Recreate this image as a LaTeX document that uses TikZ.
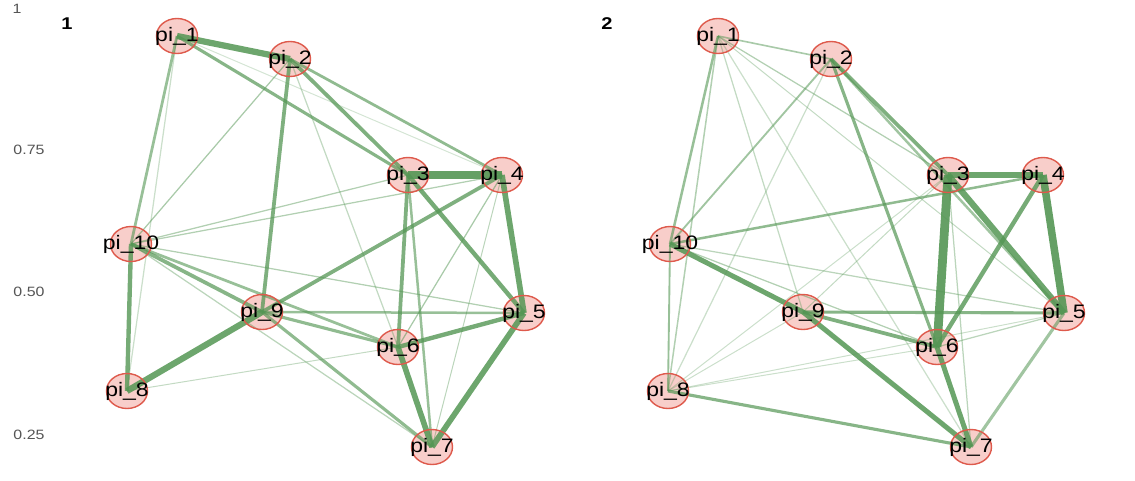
\documentclass[tikz,border=0pt]{standalone}
\usepackage{fontspec}
\setmainfont{Liberation Sans}
\usetikzlibrary{shapes.geometric}
\definecolor{nodefill}{RGB}{248,206,202}
\definecolor{nodeborder}{RGB}{222,90,76}
\definecolor{edgegreen}{RGB}{84,150,84}
\definecolor{ticktext}{RGB}{85,85,85}
\newcommand\hs[1]{\scalebox{1.18}[1]{#1}}
\tikzset{
  nd/.style={ellipse, minimum width=41pt, minimum height=35pt, inner sep=0pt, fill=nodefill},
  ndring/.style={ellipse, minimum width=41pt, minimum height=35pt, inner sep=0pt, draw=nodeborder, line width=1.4pt},
  ndlbl/.style={inner sep=0pt, font=\fontsize{19.5}{19.5}\selectfont, text=black},
  ed/.style 2 args={draw=edgegreen, line width=1.25*#1pt, draw opacity=#2},
  ticklbl/.style={font=\fontsize{13.5}{13.5}\selectfont, text=ticktext, inner sep=0pt},
  panellbl/.style={font=\fontsize{17}{17}\selectfont\bfseries, text=black, inner sep=0pt}
}
\begin{document}
\begin{tikzpicture}[x=1pt,y=-1pt]
\useasboundingbox (0,0) rectangle (1135,480);
% tick labels
\node[ticklbl] (t1) at (17,9) {\hs{1}};
\node[ticklbl] (t2) at (29,150) {\hs{0.75}};
\node[ticklbl] (t3) at (29,292) {\hs{0.50}};
\node[ticklbl] (t4) at (29,435) {\hs{0.25}};
\node[panellbl] (p1) at (67,24) {\hs{1}};
\node[panellbl] (p2) at (607,24) {\hs{2}};
% node fills, panel 1
\foreach \n/\x/\y in {1/177/36, 2/290/59, 3/408/175, 4/502/175, 5/524/313, 6/398/347, 7/432/447, 8/127/391, 9/262/312, 10/131/244}
  \node[nd] (a\n) at (\x,\y) {};
% node fills, panel 2
\foreach \n/\x/\y in {1/718/36, 2/831/59, 3/948/175, 4/1043/175, 5/1064/313, 6/937/347, 7/971/447, 8/668/391, 9/803/312, 10/670/244}
  \node[nd] (b\n) at (\x,\y) {};
% edges, panel 1
\foreach \a/\b/\w/\o in {1/4/0.8/0.25, 1/8/1/0.3, 2/10/1/0.5, 2/6/1/0.35, 3/10/1/0.45, 4/10/1/0.45, 4/6/1/0.5, 4/7/0.8/0.4, 5/10/1/0.45, 6/8/0.8/0.35, 7/10/1/0.4,
  1/10/2.2/0.6, 2/4/2.2/0.65, 3/7/2/0.6, 5/9/2/0.6, 6/10/2.2/0.6, 1/3/2.5/0.7, 6/9/2.5/0.65, 7/9/2.5/0.65,
  2/3/3/0.75, 2/9/3/0.75, 3/6/3/0.75, 4/9/3/0.75, 9/10/3/0.7, 3/5/3.5/0.8, 5/6/3.5/0.8, 8/10/3.5/0.8,
  4/5/4.5/0.85, 5/7/4.5/0.85, 6/7/4.5/0.85, 1/2/5/0.85, 8/9/5/0.85, 3/4/7/0.9}
  \draw[ed={\w}{\o}] (a\a.center) -- (a\b.center);
% edges, panel 2
\foreach \a/\b/\w/\o in {1/9/1/0.35, 1/7/1/0.3, 1/3/1/0.45, 1/5/0.8/0.35, 2/8/1/0.3, 3/7/1/0.4, 3/8/0.8/0.3, 3/9/0.8/0.35, 5/10/1/0.4, 5/6/1/0.4, 5/8/0.8/0.3, 6/10/1/0.45, 6/8/0.8/0.3, 8/9/0.8/0.3,
  1/2/1.3/0.5, 1/8/1.2/0.45, 2/10/1.5/0.55, 8/10/1.5/0.6, 1/10/2/0.6, 2/5/2/0.55, 4/10/2/0.65,
  2/6/2.5/0.7, 5/9/2.5/0.7, 5/7/2.5/0.55, 7/8/2.5/0.7, 2/3/3/0.75, 6/9/3/0.75, 4/6/3.5/0.8,
  6/7/4/0.85, 7/9/4/0.85, 9/10/4/0.85, 3/4/5/0.85, 3/5/5/0.85, 4/5/6/0.9, 3/6/7/0.9}
  \draw[ed={\w}{\o}] (b\a.center) -- (b\b.center);
% rings and labels
\foreach \n in {1,...,10} {
  \node[ndring] (ra\n) at (a\n) {};
  \node[ndring] (rb\n) at (b\n) {};
  \node[ndlbl] (la\n) at (a\n) {\hs{pi\_\n}};
  \node[ndlbl] (lb\n) at (b\n) {\hs{pi\_\n}};
}
\end{tikzpicture}
\end{document}
